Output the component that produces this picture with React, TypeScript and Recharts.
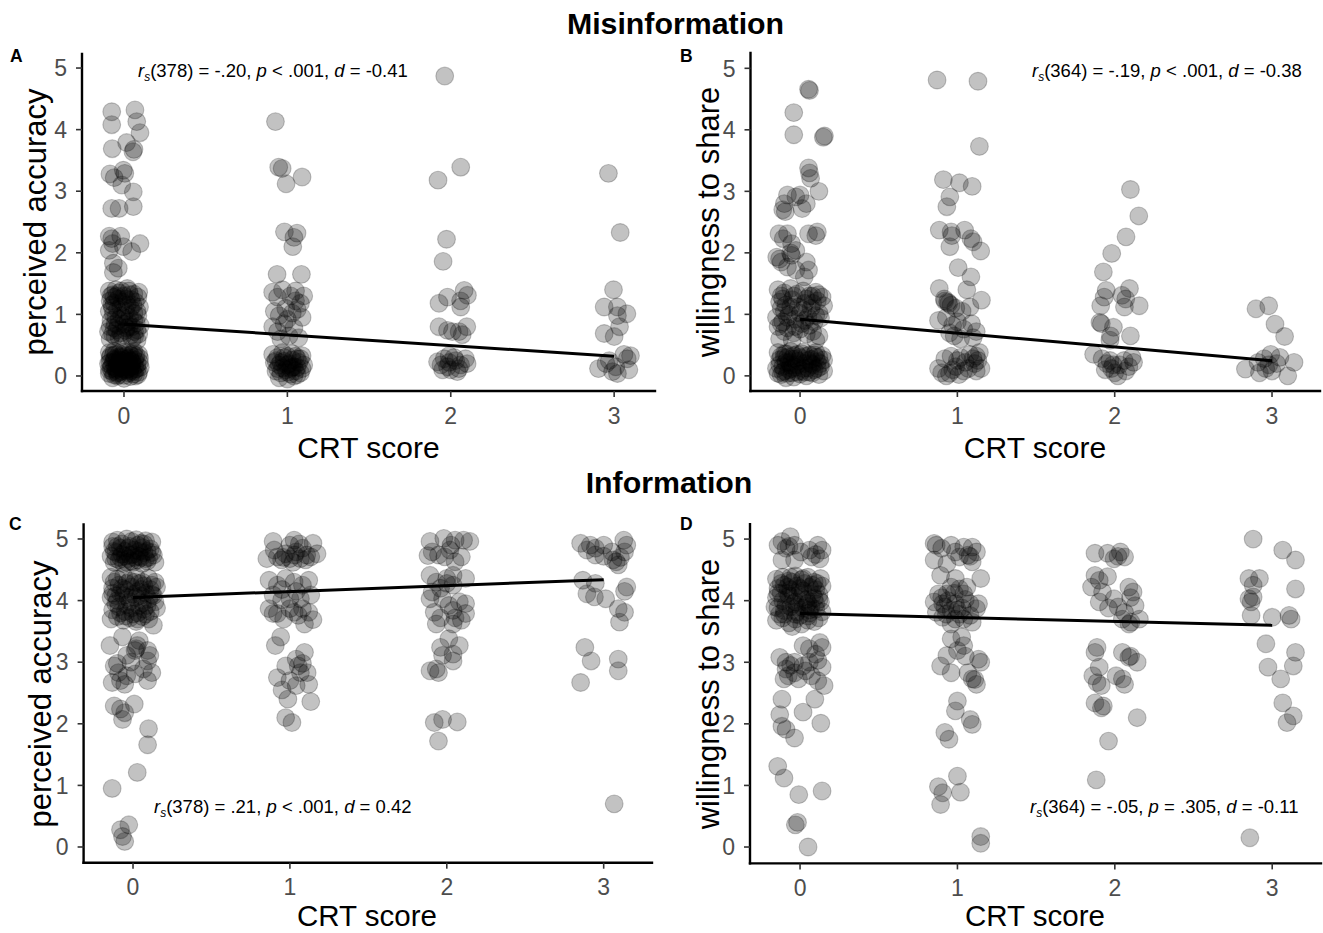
import React from 'react';
import { ScatterChart, Scatter, XAxis, YAxis, ReferenceLine } from 'recharts';

// ---------- categories / ticks ----------
const crtTicks = [0, 1, 2, 3];
const ratingTicks = [0, 1, 2, 3, 4, 5];

// ---------- Panel A: Misinformation, perceived accuracy  [jittered CRT, rating] ----------
const misAcc0: [number, number][] = [
  [-0.075,4.29],[0.067,4.32],[-0.075,4.08],[0.078,4.13],[0.098,3.95],[-0.072,3.69],[0.016,3.79],[0.061,3.68],[0.055,3.64],
  [-0.086,3.28],[-0.06,3.22],[-0.004,3.34],[0.005,3.29],[-0.014,3.10],[0.057,2.99],[-0.075,2.72],[-0.03,2.72],[0.057,2.75],
  [-0.075,2.23],[-0.07,2.15],[-0.09,2.04],[-0.004,2.10],[0.047,2.02],[0.098,2.15],[-0.065,1.83],[-0.035,1.75],[-0.065,1.68],[-0.09,2.27],[-0.02,2.27],
  [-0.09,1.38],[-0.07,1.32],[-0.05,1.40],[-0.03,1.35],[0.0,1.30],[0.03,1.38],[0.06,1.33],[0.09,1.36],
  [-0.085,1.22],[-0.06,1.18],[-0.035,1.25],[-0.01,1.20],[0.02,1.15],[0.045,1.24],[0.07,1.20],[0.095,1.12],
  [-0.09,1.05],[-0.065,1.00],[-0.04,1.08],[-0.015,0.98],[0.01,1.05],[0.035,0.95],[0.06,1.02],[0.085,0.98],
  [-0.08,0.90],[-0.055,0.85],[-0.03,0.92],[0.0,0.84],[0.025,0.88],[0.05,0.80],[0.075,0.86],[0.1,0.82],
  [-0.095,0.72],[-0.07,0.68],[-0.045,0.75],[-0.02,0.70],[0.01,0.74],[0.04,0.66],[0.065,0.72],[0.09,0.68],
  [-0.085,0.60],[-0.03,0.62],[0.05,0.60],[0.08,0.58],[-0.06,1.28],[0.02,1.42],
  [-0.07,1.10],[-0.02,1.12],[0.04,1.10],[0.08,1.05],[-0.05,0.95],[0.0,0.95],[0.06,0.90],[-0.06,0.78],[0.03,0.80],[-0.01,0.64],[0.08,0.75],[-0.08,1.30],
  [-0.075,1.15],[-0.045,1.30],[-0.015,1.38],[0.015,1.25],[0.055,1.15],[0.085,1.28],[-0.085,0.80],[-0.035,0.82],[0.015,0.78],[0.065,0.64],[0.035,1.32],[-0.055,0.65],
  [-0.09,0.38],[-0.06,0.40],[-0.03,0.36],[0.0,0.39],[0.03,0.37],[0.06,0.40],[0.09,0.35],
  [-0.085,0.30],[-0.055,0.28],[-0.025,0.32],[0.005,0.27],[0.035,0.30],[0.065,0.26],[0.095,0.29],
  [-0.095,0.20],[-0.065,0.22],[-0.04,0.18],[-0.01,0.21],[0.02,0.17],[0.05,0.22],[0.08,0.19],
  [-0.08,0.12],[-0.05,0.10],[-0.02,0.14],[0.01,0.09],[0.04,0.13],[0.07,0.11],[0.1,0.14],
  [-0.09,0.04],[-0.06,0.02],[-0.03,0.06],[0.0,0.01],[0.03,0.05],[0.06,0.03],[0.09,0.06],
  [-0.07,-0.03],[-0.04,0.0],[0.0,-0.04],[0.04,-0.01],[0.07,0.0],
  [-0.045,0.25],[0.015,0.24],[0.075,0.33],[-0.075,0.16],[0.045,0.16],[-0.015,0.08],[0.055,0.07],
  [-0.08,0.33],[-0.05,0.35],[-0.02,0.30],[0.01,0.33],[0.04,0.34],[0.07,0.30],[-0.07,0.07],[-0.04,0.05],
  [-0.01,0.12],[0.02,0.11],[0.05,0.10],[0.08,0.12],[-0.06,0.26],[0.03,0.19],[0.0,0.16],[-0.03,0.21],
  [-0.085,0.22],[-0.055,0.14],[-0.025,0.26],[0.005,0.20],[0.035,0.08],[0.065,0.16],[0.095,0.22],[-0.09,0.10],
  [-0.035,0.02],[0.025,0.28],[0.055,0.36],[-0.065,0.34],[0.085,0.02],[-0.005,0.34],[0.045,0.24],[-0.045,0.12],
];
const misAcc1: [number, number][] = [
  [0.927,4.13],[0.947,3.39],[0.968,3.37],[0.992,3.12],[1.09,3.23],[0.982,2.34],[1.059,2.32],[1.033,2.10],[1.04,2.25],[0.937,1.65],[1.086,1.65],
  [0.91,1.36],[0.94,1.28],[0.97,1.40],[1.02,1.30],[1.05,1.22],[1.08,1.18],[1.1,1.30],
  [0.92,1.05],[0.95,0.98],[0.99,1.10],[1.03,1.02],[1.06,1.08],[1.09,0.95],
  [0.91,0.80],[0.94,0.72],[0.98,0.85],[1.01,0.65],[1.04,0.78],[1.07,0.62],[0.96,0.60],[1.0,0.92],[1.05,1.38],
  [0.91,0.35],[0.94,0.30],[0.97,0.38],[1.0,0.32],[1.03,0.36],[1.06,0.28],[1.09,0.33],
  [0.92,0.22],[0.95,0.18],[0.98,0.24],[1.01,0.20],[1.04,0.15],[1.07,0.22],[1.1,0.18],
  [0.93,0.08],[0.96,0.05],[0.99,0.10],[1.02,0.03],[1.05,0.08],[1.08,0.05],
  [0.95,-0.03],[1.0,-0.05],[1.04,0.0],[1.06,0.14],[1.03,0.26],[0.97,0.13],
  [0.98,0.30],[1.03,0.14],[1.06,0.02],[0.94,0.12],[1.08,0.28],[1.0,0.06],
  [0.93,0.25],[0.96,0.22],[1.0,0.18],[1.05,0.32],[1.09,0.12],[1.02,0.12],
];
const misAcc2: [number, number][] = [
  [1.963,4.87],[2.061,3.39],[1.922,3.18],[1.974,2.22],[1.953,1.86],
  [2.082,1.39],[1.98,1.28],[1.928,1.18],[2.061,1.12],[2.102,1.31],[2.06,1.22],
  [1.928,0.80],[1.98,0.74],[2.051,0.72],[2.098,0.80],[2.07,0.67],[2.01,0.72],
  [1.919,0.23],[1.96,0.28],[1.99,0.33],[2.03,0.25],[2.09,0.28],[1.98,0.15],[2.06,0.18],[2.0,0.10],[2.04,0.07],
  [1.94,0.18],[2.1,0.2],[2.02,0.30],[1.99,0.22],[2.05,0.12],[1.95,0.10],
];
const misAcc3: [number, number][] = [
  [2.965,3.29],[3.037,2.33],[2.996,1.40],[2.939,1.12],[3.02,1.12],[3.078,1.01],[3.02,0.98],[3.033,0.80],[2.939,0.69],[3.0,0.64],
  [2.904,0.12],[2.95,0.2],[2.99,0.07],[3.02,0.04],[3.08,0.28],[3.1,0.33],[3.06,0.35],[3.01,0.15],[2.97,0.25],[3.09,0.1],
];
const misAccFit = [0.84, 0.32]; // fitted value at CRT 0 and CRT 3

// ---------- Panel B: Misinformation, willingness to share ----------
const misShare0: [number, number][] = [
  [-0.04,4.28],[-0.04,3.92],[0.054,4.66],[0.06,4.64],[0.148,3.88],[0.155,3.90],
  [0.054,3.38],[0.06,3.30],[0.067,3.21],[0.12,3.0],[0.04,2.8],
  [-0.08,2.94],[-0.027,2.91],[-0.10,2.80],[-0.094,2.67],[0.0,2.94],[0.013,2.72],[-0.11,2.70],
  [0.054,2.31],[0.11,2.34],[0.1,2.28],
  [-0.134,2.31],[-0.107,2.23],[-0.08,2.31],[-0.054,2.15],[-0.027,2.04],[-0.054,1.96],[-0.148,1.93],[-0.12,1.85],
  [-0.08,1.77],[-0.027,1.72],[0.04,1.85],[0.054,1.72],[0.027,1.61],[-0.13,1.90],[-0.06,2.0],
  [-0.14,1.40],[-0.1,1.35],[-0.06,1.42],[-0.02,1.33],[0.02,1.38],[0.06,1.30],[0.1,1.36],[0.14,1.28],
  [-0.13,1.20],[-0.09,1.15],[-0.05,1.24],[-0.01,1.12],[0.03,1.18],[0.07,1.10],[0.11,1.22],[0.15,1.14],
  [-0.15,0.95],[-0.11,0.88],[-0.07,1.00],[-0.03,0.92],[0.01,0.85],[0.05,0.96],[0.09,0.88],[0.13,0.94],
  [-0.14,0.80],[-0.12,0.85],[-0.08,0.78],[-0.04,0.70],[0.0,0.76],[0.04,0.68],[0.08,0.72],[0.12,0.65],
  [-0.13,0.60],[-0.05,0.58],[0.1,0.58],[-0.1,1.05],[0.0,1.02],[0.12,1.02],
  [-0.12,1.30],[-0.04,1.30],[0.04,1.25],[0.08,1.30],[-0.08,0.95],[0.03,0.90],[0.1,0.98],[-0.1,0.72],
  [-0.12,1.10],[-0.06,1.12],[0.02,1.08],[0.08,1.18],[-0.03,0.80],[0.06,0.82],[-0.11,1.25],[0.12,1.32],
  [-0.14,0.38],[-0.1,0.36],[-0.06,0.40],[-0.02,0.35],[0.02,0.39],[0.06,0.34],[0.1,0.38],[0.14,0.33],
  [-0.13,0.26],[-0.09,0.22],[-0.05,0.28],[-0.01,0.24],[0.03,0.20],[0.07,0.27],[0.11,0.23],[0.15,0.26],
  [-0.15,0.12],[-0.11,0.15],[-0.07,0.10],[-0.03,0.14],[0.01,0.08],[0.05,0.13],[0.09,0.10],[0.13,0.15],
  [-0.12,0.02],[-0.08,0.04],[-0.04,-0.02],[0.0,0.03],[0.04,0.0],[0.08,0.05],[0.12,0.02],
  [-0.09,-0.03],[-0.1,0.30],[0.0,0.30],[0.08,0.18],[-0.06,0.18],[0.12,0.30],[-0.02,0.06],[0.06,0.06],[-0.14,0.04],[0.15,0.08],
  [-0.12,0.32],[-0.08,0.30],[-0.04,0.33],[0.04,0.32],[0.1,0.30],[-0.1,0.08],[-0.05,0.05],[0.02,0.12],[0.07,0.2],[-0.02,0.18],
  [-0.13,0.18],[-0.11,0.06],[-0.07,0.22],[-0.03,0.28],[0.01,0.36],[0.05,0.25],[0.09,0.34],[0.13,0.20],
  [-0.05,0.12],[0.03,0.06],[0.11,0.12],[-0.09,0.36],
];
const misShare1: [number, number][] = [
  [0.871,4.81],[1.131,4.79],[1.14,3.73],
  [0.911,3.19],[1.013,3.14],[1.094,3.08],[0.952,2.91],[0.933,2.75],
  [0.885,2.37],[0.96,2.34],[0.965,2.28],[1.046,2.37],[1.086,2.23],[1.1,2.18],[1.148,2.03],[0.952,2.10],
  [1.005,1.76],[1.086,1.61],
  [0.885,1.42],[0.917,1.25],[0.938,1.20],[0.945,1.18],[0.96,1.15],[0.92,1.22],[1.153,1.23],[0.99,1.10],[1.03,1.05],[1.08,1.12],
  [0.88,0.90],[0.93,0.95],[0.97,0.82],[1.0,0.88],[1.04,0.76],[1.09,0.85],[1.12,0.72],[0.98,0.65],[1.02,0.60],[1.1,0.62],[0.95,0.70],[1.06,1.40],
  [0.88,0.12],[0.9,0.05],[0.93,0.0],[0.95,0.04],[0.97,0.10],[1.0,0.25],[1.02,0.30],[1.05,0.22],[1.08,0.35],[1.1,0.28],
  [1.12,0.32],[1.13,0.25],[1.14,0.38],[1.11,0.20],[1.07,0.12],[1.04,0.08],[0.99,0.15],[0.92,0.28],[1.15,0.12],[1.12,0.08],[0.96,0.32],[1.01,0.02],
];
const misShare2: [number, number][] = [
  [2.1,3.03],[2.153,2.6],[2.072,2.26],[1.981,1.99],[1.928,1.69],
  [1.946,1.39],[1.933,1.28],[1.911,1.14],[2.046,1.31],[2.094,1.42],[2.062,1.12],[2.156,1.14],[2.07,1.25],
  [1.906,0.87],[1.915,0.85],[1.992,0.79],[1.973,0.65],[1.97,0.58],[2.1,0.65],
  [1.866,0.35],[1.92,0.28],[1.95,0.2],[1.98,0.12],[2.0,0.05],[2.03,0.18],[2.06,0.25],[2.09,0.15],[2.12,0.22],
  [1.94,0.1],[2.02,0.0],[2.07,0.08],[1.97,0.25],[2.11,0.3],[1.99,0.18],
];
const misShare3: [number, number][] = [
  [2.898,1.09],[2.979,1.14],[3.019,0.84],[3.08,0.64],[3.14,0.22],[3.1,0.0],
  [2.831,0.11],[2.911,0.22],[2.95,0.28],[2.992,0.35],[2.98,0.18],[3.03,0.2],[2.92,0.05],[3.0,0.08],[3.05,0.3],[2.96,0.12],
];
const misShareFit = [0.92, 0.245];

// ---------- Panel C: Information, perceived accuracy ----------
const infAcc0: [number, number][] = [
  [-0.13,4.95],[-0.1,4.98],[-0.07,4.92],[-0.04,5.0],[-0.01,4.96],[0.02,4.99],[0.05,4.93],[0.08,4.97],[0.12,4.95],
  [-0.14,4.72],[-0.11,4.78],[-0.08,4.70],[-0.05,4.80],[-0.02,4.74],[0.01,4.82],[0.04,4.72],[0.07,4.78],[0.1,4.70],[0.13,4.74],
  [-0.12,4.62],[-0.09,4.66],[-0.06,4.60],[-0.03,4.68],[0.0,4.62],[0.03,4.66],[0.06,4.60],[0.09,4.64],[0.14,4.62],
  [-0.02,4.88],[0.06,4.86],[-0.08,4.85],[0.11,4.84],
  [-0.1,4.88],[-0.05,4.72],[0.0,4.75],[0.05,4.70],[0.09,4.80],[-0.12,4.80],[0.03,4.90],[-0.04,4.62],
  [-0.11,4.68],[-0.07,4.75],[-0.03,4.85],[0.01,4.70],[0.04,4.80],[0.08,4.68],[0.12,4.78],[-0.13,4.88],[0.07,4.92],[-0.01,4.64],
  [-0.14,4.38],[-0.1,4.35],[-0.06,4.40],[-0.02,4.32],[0.02,4.38],[0.06,4.30],[0.1,4.36],[0.14,4.30],
  [-0.13,4.20],[-0.09,4.25],[-0.05,4.18],[-0.01,4.22],[0.03,4.15],[0.07,4.24],[0.11,4.18],[0.15,4.22],
  [-0.14,4.05],[-0.1,4.00],[-0.06,4.08],[-0.02,3.98],[0.02,4.05],[0.06,3.96],[0.1,4.02],[0.14,3.98],
  [-0.13,3.85],[-0.09,3.90],[-0.05,3.82],[-0.01,3.88],[0.03,3.80],[0.07,3.86],[0.11,3.82],[0.15,3.88],
  [-0.14,3.70],[-0.1,3.74],[-0.06,3.68],[-0.02,3.72],[0.02,3.66],[0.06,3.74],[0.1,3.70],[0.13,3.60],
  [-0.08,4.12],[0.0,4.10],[0.08,4.12],[-0.04,3.93],[0.04,3.92],[0.12,4.10],
  [-0.12,4.30],[-0.04,4.28],[0.04,4.28],[0.12,4.25],[-0.08,3.80],[0.0,3.78],[0.08,3.78],[-0.11,4.08],[0.05,4.08],
  [-0.13,4.12],[-0.07,4.20],[-0.03,4.05],[0.01,4.30],[0.05,4.18],[0.09,3.92],[0.13,4.08],[-0.11,3.95],[-0.05,3.75],[0.03,3.70],
  [-0.147,3.27],[-0.067,3.41],[0.04,3.35],[0.027,3.27],[0.013,3.19],[0.093,3.19],[0.107,3.11],[0.093,3.02],[-0.04,3.11],
  [-0.12,2.94],[-0.093,2.83],[-0.133,2.67],[-0.08,2.70],[-0.053,2.64],[-0.04,2.78],[0.013,2.81],[0.067,2.89],[0.12,2.83],
  [0.093,2.70],[-0.013,3.0],[-0.1,2.98],[0.02,3.22],
  [-0.12,2.29],[-0.08,2.24],[0.008,2.32],[-0.053,2.18],[-0.067,2.07],[0.099,1.92],[0.093,1.66],[0.027,1.21],[-0.133,0.95],
  [-0.027,0.36],[-0.08,0.28],[-0.067,0.17],[-0.053,0.09],
];
const infAcc1: [number, number][] = [
  [0.893,4.96],[1.027,4.98],[1.0,4.90],[1.147,4.93],[1.08,4.85],[0.92,4.71],[0.853,4.68],[1.0,4.68],[1.067,4.68],
  [1.133,4.71],[1.04,4.79],[0.973,4.76],[1.107,4.74],[1.173,4.76],[0.947,4.66],[1.02,4.62],[0.9,4.82],[1.06,4.92],
  [0.96,4.70],[1.1,4.66],[1.03,4.74],
  [0.867,4.33],[0.92,4.25],[0.973,4.36],[1.027,4.30],[1.08,4.25],[1.12,4.33],[0.893,4.09],[0.947,4.01],[1.0,4.03],
  [1.067,4.03],[1.133,4.09],[0.867,3.87],[0.92,3.79],[1.0,3.87],[1.053,3.76],[1.08,3.87],[1.12,3.81],[1.147,3.69],
  [1.093,3.62],[1.027,3.81],[0.893,3.79],[0.96,3.70],[1.04,4.15],[0.95,4.18],
  [0.941,3.41],[0.907,3.27],[1.093,3.16],[1.04,3.05],[0.973,2.94],[1.053,2.94],[1.067,2.83],[0.92,2.75],[1.0,2.70],
  [1.04,2.62],[1.12,2.64],[0.987,2.40],[1.133,2.36],[0.973,2.10],[1.013,2.02],[1.11,2.83],[0.95,2.55],[1.08,2.98],
];
const infAcc2: [number, number][] = [
  [1.893,4.96],[1.981,5.01],[2.053,4.98],[2.107,4.98],[2.147,4.96],[2.027,4.90],[1.907,4.79],[1.947,4.74],[1.987,4.71],
  [2.093,4.71],[2.053,4.63],[1.88,4.73],[2.02,4.82],
  [1.893,4.41],[1.933,4.30],[2.0,4.36],[2.04,4.41],[2.12,4.36],[1.907,4.14],[1.96,4.20],[2.04,4.25],[1.893,4.03],
  [1.973,4.03],[2.013,3.92],[2.08,3.98],[2.12,3.95],[2.04,3.84],[2.12,3.79],[1.92,3.81],[2.053,3.72],[2.04,3.62],
  [1.933,3.62],[2.093,3.68],[1.96,3.72],[2.0,4.28],
  [2.013,3.38],[2.08,3.27],[1.96,3.24],[2.04,3.13],[1.973,3.11],[2.04,3.02],[1.933,2.89],[1.947,2.83],[1.893,2.86],
  [1.92,2.02],[1.973,2.07],[2.067,2.03],[1.947,1.72],
];
const infAcc3: [number, number][] = [
  [2.853,4.93],[2.915,4.90],[3.0,4.90],[3.128,4.98],[3.147,4.90],[2.893,4.82],[2.947,4.85],[3.053,4.79],[3.133,4.79],
  [2.947,4.74],[3.0,4.72],[3.08,4.63],[3.107,4.70],[3.093,4.58],[3.06,4.66],
  [2.867,4.33],[2.947,4.28],[2.893,4.11],[2.941,4.06],[3.013,4.03],[3.147,4.22],[3.133,4.15],[3.093,3.87],[3.133,3.81],[3.101,3.65],
  [2.88,3.24],[2.92,3.02],[2.853,2.67],[3.093,3.05],[3.093,2.86],[3.067,0.70],
];
const infAccFit = [4.05, 4.34];

// ---------- Panel D: Information, willingness to share ----------
const infShare0: [number, number][] = [
  [-0.062,5.04],[-0.115,4.96],[-0.14,4.90],[-0.035,4.90],[-0.089,4.85],[0.005,4.79],[0.059,4.82],[0.113,4.90],
  [0.14,4.82],[0.073,4.71],[0.126,4.68],[-0.115,4.66],[-0.035,4.66],[-0.07,4.88],[0.1,4.75],
  [-0.15,4.35],[-0.11,4.38],[-0.07,4.32],[-0.03,4.40],[0.01,4.34],[0.05,4.38],[0.09,4.30],[0.13,4.36],
  [-0.14,4.20],[-0.1,4.25],[-0.06,4.18],[-0.02,4.24],[0.02,4.16],[0.06,4.22],[0.1,4.18],[0.14,4.24],
  [-0.15,4.05],[-0.11,4.00],[-0.07,4.08],[-0.03,3.98],[0.01,4.05],[0.05,3.96],[0.09,4.04],[0.13,3.98],
  [-0.14,3.88],[-0.1,3.84],[-0.06,3.90],[-0.02,3.82],[0.02,3.88],[0.06,3.80],[0.1,3.86],[0.14,3.82],
  [-0.15,3.68],[-0.11,3.72],[-0.07,3.64],[-0.03,3.70],[0.01,3.62],[0.05,3.68],[0.09,3.66],[0.12,3.72],
  [-0.08,4.12],[0.0,4.12],[0.08,4.10],[-0.12,4.12],[0.12,4.10],[-0.04,3.95],[0.04,3.92],[-0.16,3.90],[0.0,3.76],[-0.05,3.58],
  [-0.12,4.28],[-0.05,4.30],[0.03,4.28],[0.11,4.28],[-0.09,3.93],[0.07,3.90],[-0.13,3.78],[-0.03,3.78],[0.05,3.75],[0.1,3.95],
  [-0.14,4.12],[-0.08,4.22],[-0.04,4.08],[0.0,4.20],[0.04,4.02],[0.08,4.25],[0.12,4.02],[-0.1,3.78],[-0.02,3.90],[0.06,3.85],[0.02,4.36],[-0.06,4.38],
  [-0.129,3.08],[-0.089,3.0],[-0.089,2.89],[-0.075,2.78],[-0.035,2.83],[-0.102,2.73],[0.019,3.27],[0.059,3.22],
  [0.126,3.32],[0.14,3.24],[0.099,3.13],[0.113,3.03],[0.059,3.0],[0.019,2.94],[0.14,2.92],[0.073,2.78],[0.113,2.70],
  [0.153,2.62],[-0.01,2.73],[-0.035,3.0],[0.035,2.86],[-0.06,2.95],
  [-0.115,2.40],[-0.129,2.15],[-0.115,1.96],[-0.089,1.91],[-0.035,1.77],[0.019,2.19],[0.094,2.40],[0.132,2.01],
  [-0.142,1.31],[-0.102,1.12],[-0.008,0.85],[0.14,0.91],[-0.03,0.36],[-0.016,0.40],[0.051,0.0],
];
const infShare1: [number, number][] = [
  [0.852,4.93],[0.865,4.90],[0.96,4.90],[1.04,4.87],[1.094,4.87],[0.987,4.79],[1.067,4.74],[1.121,4.79],[1.013,4.71],
  [0.852,4.66],[0.933,4.60],[1.094,4.63],[1.08,4.72],[0.9,4.85],
  [0.893,4.41],[0.987,4.36],[1.148,4.36],[0.96,4.22],[1.013,4.19],[0.879,4.11],[0.933,4.11],[1.04,4.11],[0.852,3.98],
  [0.906,3.95],[0.987,3.95],[1.134,3.95],[1.121,3.87],[0.866,3.81],[0.96,3.84],[1.013,3.78],[1.08,3.76],[1.04,3.70],
  [0.906,3.73],[0.987,3.70],[1.094,3.65],[0.96,3.62],[1.05,4.02],[0.92,3.90],[1.0,3.85],[0.94,4.0],[1.08,3.95],
  [0.9,4.05],[0.98,4.12],[1.06,4.22],[1.03,3.88],[0.93,3.78],
  [0.96,3.38],[1.027,3.41],[1.04,3.27],[1.0,3.19],[1.134,3.05],[1.148,3.0],[0.933,3.11],[0.893,2.94],[0.96,2.83],
  [1.067,2.83],[1.094,2.73],[1.121,2.64],[1.0,2.37],[0.987,2.21],[1.081,2.07],[1.094,1.99],[0.92,1.86],[0.946,1.75],
  [1.11,2.72],[1.05,3.1],
  [0.879,0.98],[0.906,0.88],[0.893,0.69],[1.0,1.15],[1.019,0.89],[1.148,0.17],[1.148,0.06],
];
const infShare2: [number, number][] = [
  [1.874,4.77],[1.954,4.77],[2.035,4.79],[1.995,4.68],[2.062,4.71],[2.02,4.72],
  [1.874,4.41],[1.901,4.33],[1.954,4.39],[1.852,4.22],[1.922,4.14],[1.901,3.98],[1.995,4.03],[2.089,4.22],[2.116,4.14],
  [2.1,4.05],[2.021,3.90],[2.062,3.81],[2.129,3.92],[2.048,3.70],[2.102,3.65],[2.156,3.70],[2.09,3.62],[1.96,3.88],
  [1.887,3.24],[1.874,3.16],[2.048,3.16],[2.089,3.08],[2.142,3.0],[1.901,2.92],[1.86,2.78],[1.887,2.67],[1.914,2.62],
  [2.008,2.78],[2.048,2.73],[2.062,2.64],[1.874,2.34],[1.927,2.29],[1.915,2.26],[2.142,2.10],[1.96,1.72],[1.882,1.09],[2.1,3.1],
];
const infShare3: [number, number][] = [
  [2.879,5.0],[3.067,4.82],[3.148,4.66],[2.852,4.36],[2.919,4.36],[2.879,4.25],[2.852,4.03],[2.879,4.06],[2.866,3.98],
  [3.148,4.19],[2.866,3.76],[3.0,3.73],[3.107,3.76],[3.12,3.70],[2.96,3.30],[3.148,3.16],[3.134,2.94],[2.973,2.92],
  [3.054,2.73],[3.067,2.34],[3.134,2.13],[3.094,2.02],[2.858,0.15],
];
const infShareFit = [3.79, 3.60];

// ---------- rendering ----------
const FONT = '"Liberation Sans", Arial, Helvetica, sans-serif';
const TICK_FONT = 23;

const toRows = (groups: [number, number][][]) =>
  groups.flat().map(([x, y]) => ({ x, y }));

const Dot = (props: any) => {
  const { cx, cy } = props;
  if (cx == null || cy == null) return null;
  return (
    <circle cx={cx} cy={cy} r={8.9} fill="#000" fillOpacity={0.24}
      stroke="#000" strokeOpacity={0.22} strokeWidth={1.1} />
  );
};

const XTick = (props: any) => {
  const { x, y, payload } = props;
  return (
    <text x={x} y={y + TICK_FONT * 0.72} textAnchor="middle" fill="#4d4d4d"
      fontSize={TICK_FONT} fontFamily={FONT}>{payload.value}</text>
  );
};

const YTick = (props: any) => {
  const { x, y, payload } = props;
  return (
    <text x={x} y={y + TICK_FONT * 0.36} textAnchor="end" fill="#4d4d4d"
      fontSize={TICK_FONT} fontFamily={FONT}>{payload.value}</text>
  );
};

type PanelProps = {
  left: number; top: number; width: number; height: number;
  marginTop: number; marginRight: number; yAxisWidth: number; xAxisHeight: number;
  xDomain: [number, number]; yDomain: [number, number];
  rows: { x: number; y: number }[]; fit: number[];
};

function Panel(p: PanelProps) {
  return (
    <div style={{ position: 'absolute', left: p.left, top: p.top, width: p.width, height: p.height }}>
      <ScatterChart width={p.width} height={p.height}
        margin={{ top: p.marginTop, right: p.marginRight, bottom: 0, left: 0 }}>
        <XAxis type="number" dataKey="x" domain={p.xDomain} ticks={crtTicks} allowDataOverflow
          height={p.xAxisHeight} interval={0} tickSize={6} tickMargin={10}
          tick={<XTick />} tickLine={{ stroke: '#333333', strokeWidth: 1.6 }}
          axisLine={{ stroke: '#000', strokeWidth: 2.4, strokeLinecap: 'square' }} />
        <YAxis type="number" dataKey="y" domain={p.yDomain} ticks={ratingTicks} allowDataOverflow
          width={p.yAxisWidth} interval={0} tickSize={6} tickMargin={9}
          tick={<YTick />} tickLine={{ stroke: '#333333', strokeWidth: 1.6 }}
          axisLine={{ stroke: '#000', strokeWidth: 2.4, strokeLinecap: 'square' }} />
        <Scatter data={p.rows} shape={Dot} isAnimationActive={false} />
        <ReferenceLine segment={[{ x: crtTicks[0], y: p.fit[0] }, { x: crtTicks[3], y: p.fit[1] }]}
          stroke="#000" strokeWidth={3} />
      </ScatterChart>
    </div>
  );
}

function Stat({ x, y, df, r, pText, d }: { x: number; y: number; df: string; r: string; pText: string; d: string }) {
  return (
    <text x={x} y={y} fontSize={18.5} fill="#000" fontFamily={FONT}>
      <tspan fontStyle="italic">r</tspan>
      <tspan fontStyle="italic" fontSize={12} dy={4}>s</tspan>
      <tspan dy={-4}>{`(${df}) = ${r}, `}</tspan>
      <tspan fontStyle="italic">p</tspan>
      <tspan>{` ${pText}, `}</tspan>
      <tspan fontStyle="italic">d</tspan>
      <tspan>{` = ${d}`}</tspan>
    </text>
  );
}

function YTitle({ x, y, text }: { x: number; y: number; text: string }) {
  return (
    <text x={x} y={y} transform={`rotate(-90, ${x}, ${y})`} textAnchor="middle"
      fontSize={31} fill="#000" fontFamily={FONT}>{text}</text>
  );
}

export default function App() {
  return (
    <div style={{ position: 'absolute', left: 0, top: 0, width: 1323, height: 933, background: '#fff', fontFamily: FONT }}>
      <Panel left={0} top={0} width={660} height={470} marginTop={54} marginRight={5}
        yAxisWidth={82} xAxisHeight={79} xDomain={[-0.257, 3.25]} yDomain={[-0.244, 5.228]}
        rows={toRows([misAcc0, misAcc1, misAcc2, misAcc3])} fit={misAccFit} />
      <Panel left={668} top={0} width={655} height={470} marginTop={53} marginRight={3}
        yAxisWidth={82.5} xAxisHeight={79} xDomain={[-0.315, 3.305]} yDomain={[-0.246, 5.249]}
        rows={toRows([misShare0, misShare1, misShare2, misShare3])} fit={misShareFit} />
      <Panel left={0} top={470} width={660} height={463} marginTop={54.5} marginRight={8}
        yAxisWidth={83.6} xAxisHeight={70.3} xDomain={[-0.315, 3.308]} yDomain={[-0.255, 5.235]}
        rows={toRows([infAcc0, infAcc1, infAcc2, infAcc3])} fit={infAccFit} />
      <Panel left={668} top={470} width={655} height={463} marginTop={54.3} marginRight={2}
        yAxisWidth={82} xAxisHeight={69.6} xDomain={[-0.318, 3.31]} yDomain={[-0.266, 5.24]}
        rows={toRows([infShare0, infShare1, infShare2, infShare3])} fit={infShareFit} />

      <svg width={1323} height={933} style={{ position: 'absolute', left: 0, top: 0, pointerEvents: 'none' }}>
        <text x={675.5} y={34} textAnchor="middle" fontSize={30.3} fontWeight="bold" fontFamily={FONT}>Misinformation</text>
        <text x={669} y={493} textAnchor="middle" fontSize={30.3} fontWeight="bold" fontFamily={FONT}>Information</text>

        <text x={10} y={62} fontSize={17.5} fontWeight="bold" fontFamily={FONT}>A</text>
        <text x={680} y={62} fontSize={17.5} fontWeight="bold" fontFamily={FONT}>B</text>
        <text x={9} y={530} fontSize={17.5} fontWeight="bold" fontFamily={FONT}>C</text>
        <text x={680} y={530} fontSize={17.5} fontWeight="bold" fontFamily={FONT}>D</text>

        <Stat x={138} y={77} df="378" r="-.20" pText="< .001" d="-0.41" />
        <Stat x={1032} y={77} df="364" r="-.19" pText="< .001" d="-0.38" />
        <Stat x={154} y={813} df="378" r=".21" pText="< .001" d="0.42" />
        <Stat x={1030} y={813} df="364" r="-.05" pText="= .305" d="-0.11" />

        <YTitle x={46} y={222} text="perceived accuracy" />
        <YTitle x={719} y={222} text="willingness to share" />
        <YTitle x={51} y={694} text="perceived accuracy" />
        <YTitle x={719} y={694} text="willingness to share" />

        <text x={368.5} y={458} textAnchor="middle" fontSize={30} fontFamily={FONT}>CRT score</text>
        <text x={1035} y={458} textAnchor="middle" fontSize={30} fontFamily={FONT}>CRT score</text>
        <text x={367} y={926} textAnchor="middle" fontSize={29.5} fontFamily={FONT}>CRT score</text>
        <text x={1035} y={926} textAnchor="middle" fontSize={29.5} fontFamily={FONT}>CRT score</text>
      </svg>
    </div>
  );
}
